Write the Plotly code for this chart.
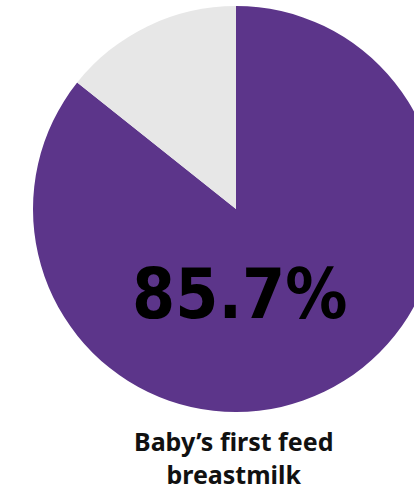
import plotly.graph_objects as go

# Share of babies whose first feed was breastmilk
categories = ["Breastmilk", "Other"]
values = [85.7, 14.3]
colors = ["#5c358a", "#e7e7e7"]
caption_lines = ["Baby’s first feed", "breastmilk"]

W, H = 480, 491
cx, cy, r = 236, 209, 203

fig = go.Figure(
    go.Pie(
        labels=categories,
        values=values,
        sort=False,
        direction="clockwise",
        rotation=0,
        marker=dict(colors=colors, line=dict(width=0)),
        textinfo="none",
        hoverinfo="skip",
        showlegend=False,
        domain=dict(x=[(cx - r) / W, (cx + r) / W], y=[(H - cy - r) / H, (H - cy + r) / H]),
    )
)

fig.add_annotation(
    x=(cx + 3) / W, y=(H - 294) / H, xref="paper", yref="paper",
    text=f"{values[0]}%", showarrow=False,
    font=dict(family="DejaVu Sans Condensed", size=69, color="#000000", weight="bold"),
    xanchor="center", yanchor="middle",
)

fig.add_annotation(
    x=(cx - 3) / W, y=(H - 457) / H, xref="paper", yref="paper",
    text="<br>".join(f"<b>{t}</b>" for t in caption_lines), showarrow=False,
    font=dict(family="Noto Sans", size=25, color="#111111"),
    xanchor="center", yanchor="middle", align="center",
)

fig.update_layout(
    width=W, height=H,
    margin=dict(l=0, r=0, t=0, b=0),
    paper_bgcolor="white", plot_bgcolor="white",
)

fig.write_html(
    "out.html",
    post_script="document.documentElement.style.overflow='hidden';document.body.style.overflow='hidden';",
)
